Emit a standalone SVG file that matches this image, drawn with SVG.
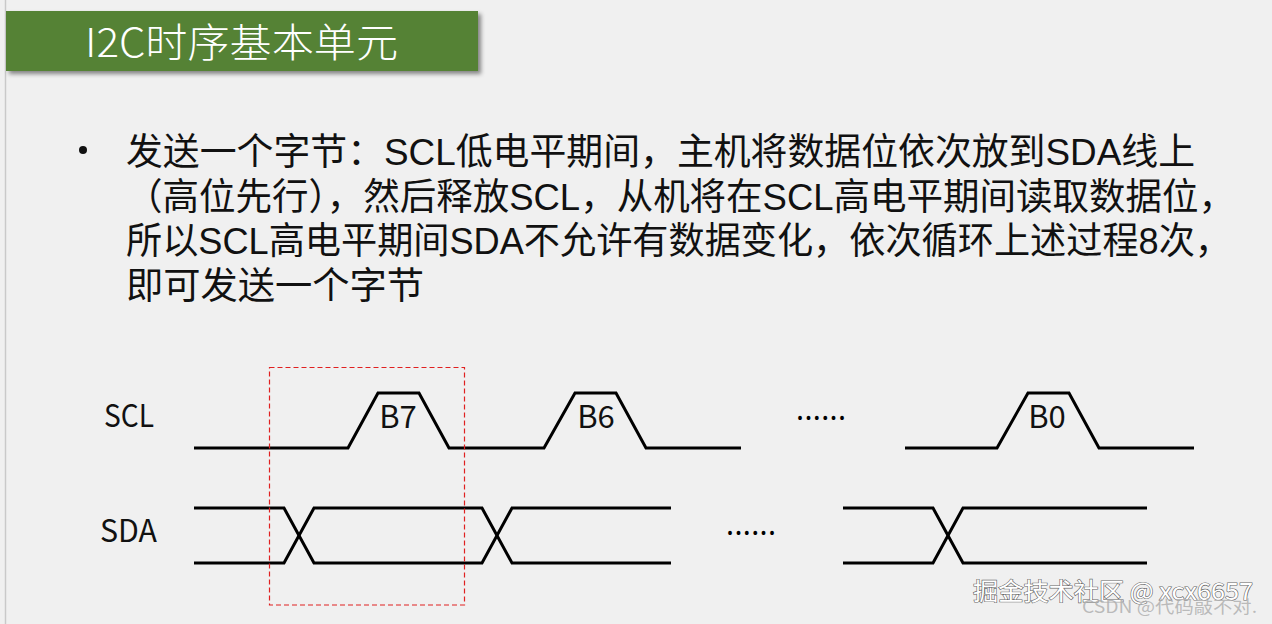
<svg xmlns="http://www.w3.org/2000/svg" width="1272" height="624" viewBox="0 0 1272 624">
<defs>
<filter id="sh" x="-5%" y="-20%" width="115%" height="150%">
<feDropShadow dx="3" dy="3" stdDeviation="2" flood-color="#000" flood-opacity="0.45"/>
</filter>
<style>
.body{font-family:"Liberation Sans","Noto Sans CJK SC",sans-serif;font-size:37px;fill:#111}
.lbl{font-family:"Noto Sans CJK SC","Noto Sans",sans-serif;font-size:31px;fill:#111}
.wave{fill:none;stroke:#000;stroke-width:3;stroke-linejoin:miter}
.dots{font-family:"Noto Sans",sans-serif;font-size:30px;fill:#000}
</style>
</defs>
<rect x="0" y="0" width="1272" height="624" fill="#f0f0f0"/>
<line x1="5.5" y1="0" x2="5.5" y2="624" stroke="#c9c9c9" stroke-width="1.5"/>

<g id="title">
<rect x="6" y="11" width="472" height="60" fill="#548235" filter="url(#sh)"/>
<text x="85" y="57" font-family="Noto Sans CJK SC, Noto Sans, sans-serif" font-size="40" font-weight="300" fill="#fff" textLength="313" lengthAdjust="spacingAndGlyphs">I2C时序基本单元</text>
</g>

<g id="description">
<circle cx="83" cy="150" r="4" fill="#111"/>
<text class="body" x="126" y="165" textLength="1069" lengthAdjust="spacingAndGlyphs">发送一个字节：SCL低电平期间，主机将数据位依次放到SDA线上</text>
<text class="body" x="126" y="210" textLength="1109" lengthAdjust="spacingAndGlyphs">（高位先行），然后释放SCL，从机将在SCL高电平期间读取数据位，</text>
<text class="body" x="126" y="254" textLength="1105" lengthAdjust="spacingAndGlyphs">所以SCL高电平期间SDA不允许有数据变化，依次循环上述过程8次，</text>
<text class="body" x="126" y="299" textLength="298" lengthAdjust="spacingAndGlyphs">即可发送一个字节</text>
</g>

<g id="scl">
<text class="lbl" x="104" y="427" textLength="50" lengthAdjust="spacingAndGlyphs">SCL</text>
<path class="wave" d="M194,448 L348,448 L378,393 L419,393 L449,448 L544,448 L575,393 L616,393 L646,448 L741,448"/>
<path class="wave" d="M905,448 L997,448 L1028,393 L1069,393 L1099,448 L1194,448"/>
<text class="lbl" x="398" y="428" text-anchor="middle">B7</text>
<text class="lbl" x="596" y="428" text-anchor="middle">B6</text>
<text class="lbl" x="1047" y="428" text-anchor="middle">B0</text>
<text class="dots" x="796" y="420" textLength="50" lengthAdjust="spacing">......</text>
</g>

<g id="sda">
<text class="lbl" x="100" y="542" textLength="57" lengthAdjust="spacingAndGlyphs">SDA</text>
<path class="wave" d="M194,508 L284,508 L314,563 L482,563 L512,508 L671,508"/>
<path class="wave" d="M194,563 L284,563 L314,508 L482,508 L512,563 L671,563"/>
<path class="wave" d="M843,508 L933,508 L963,563 L1147,563"/>
<path class="wave" d="M843,563 L933,563 L963,508 L1147,508"/>
<text class="dots" x="726" y="535" textLength="50" lengthAdjust="spacing">......</text>
</g>

<g id="highlight">
<rect x="269.5" y="367.5" width="195" height="237.5" fill="none" stroke="#e02020" stroke-width="1.2" stroke-dasharray="5 3"/>
</g>

<g id="watermark">
<text x="973" y="600" font-family="Noto Sans CJK SC, Noto Sans, sans-serif" font-size="24" fill="#fff" stroke="#666" stroke-width="1.2" paint-order="stroke" textLength="280" lengthAdjust="spacingAndGlyphs">掘金技术社区 @ xcx6657</text>
<text x="1082" y="613" font-family="Noto Sans CJK SC, Noto Sans, sans-serif" font-size="17" fill="#b0b0b0" fill-opacity="0.85" textLength="175" lengthAdjust="spacingAndGlyphs">CSDN @代码敲不对.</text>
</g>
</svg>
